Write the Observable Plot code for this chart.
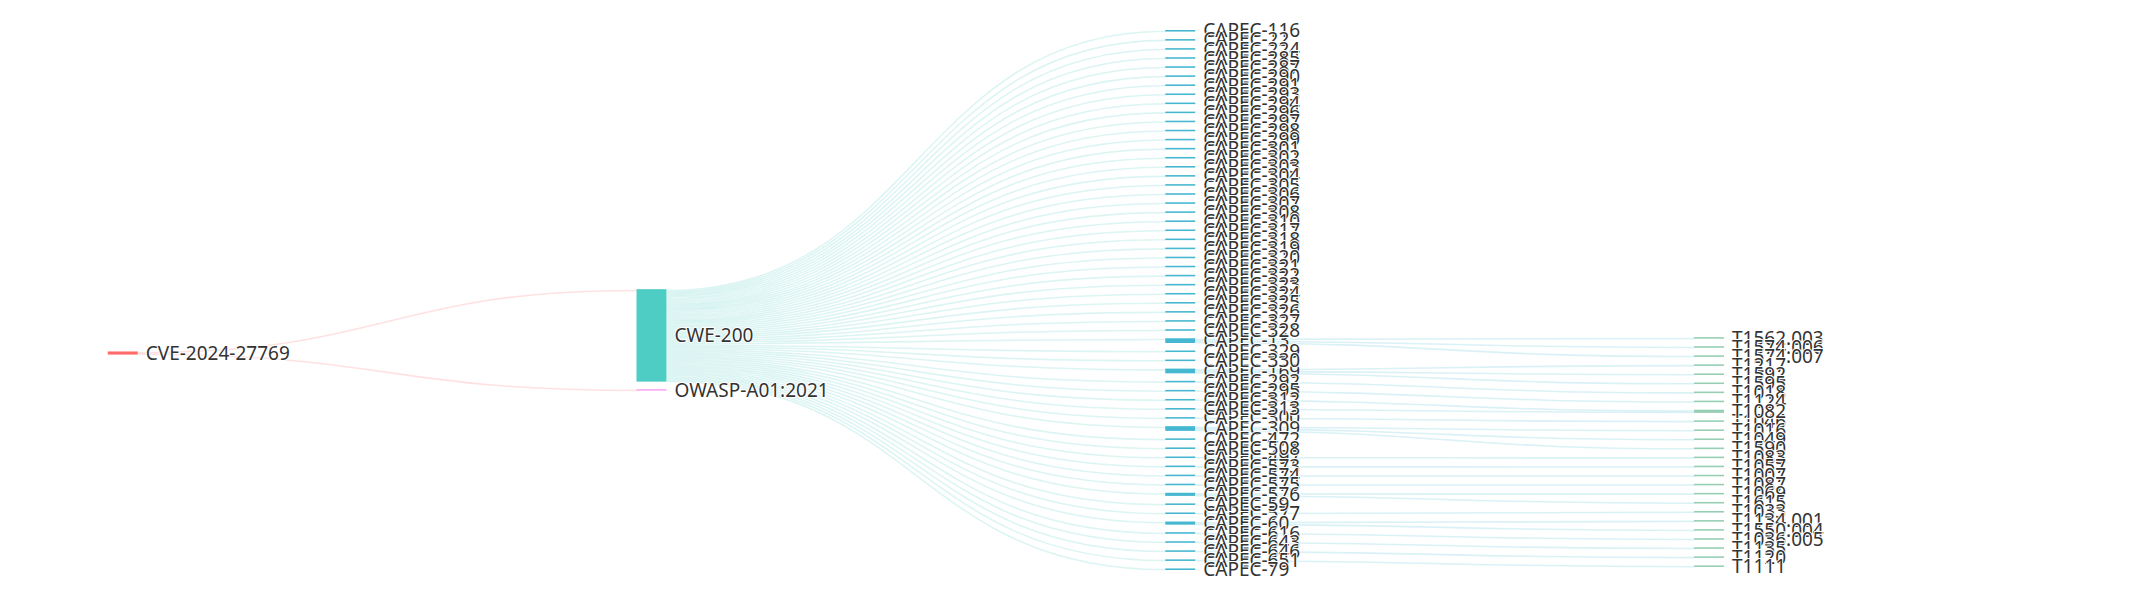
<!DOCTYPE html>
<html>
<head>
<meta charset="utf-8">
<script src="https://cdn.jsdelivr.net/npm/d3@7"></script>
<script src="https://cdn.jsdelivr.net/npm/@observablehq/plot@0.6"></script>
<style>
  html, body { margin: 0; padding: 0; background: #ffffff; }
  #chart svg { display: block; }
</style>
</head>
<body>
<div id="chart"></div>
<script>
// ---------------- data ----------------
const cveNodes = ["CVE-2024-27769"];
const weaknessNodes = ["CWE-200", "OWASP-A01:2021"];
const capecNodes = [
  "CAPEC-116","CAPEC-13","CAPEC-169","CAPEC-22","CAPEC-224","CAPEC-285","CAPEC-287",
  "CAPEC-290","CAPEC-291","CAPEC-292","CAPEC-293","CAPEC-294","CAPEC-295","CAPEC-296",
  "CAPEC-297","CAPEC-298","CAPEC-299","CAPEC-300","CAPEC-301","CAPEC-302","CAPEC-303",
  "CAPEC-304","CAPEC-305","CAPEC-306","CAPEC-307","CAPEC-308","CAPEC-309","CAPEC-310",
  "CAPEC-312","CAPEC-313","CAPEC-317","CAPEC-318","CAPEC-319","CAPEC-320","CAPEC-321",
  "CAPEC-322","CAPEC-323","CAPEC-324","CAPEC-325","CAPEC-326","CAPEC-327","CAPEC-328",
  "CAPEC-329","CAPEC-330","CAPEC-472","CAPEC-497","CAPEC-508","CAPEC-573","CAPEC-574",
  "CAPEC-575","CAPEC-576","CAPEC-577","CAPEC-59","CAPEC-60","CAPEC-616","CAPEC-643",
  "CAPEC-646","CAPEC-651","CAPEC-79"
];
const attackNodes = [
  "T1562.003","T1574.006","T1574.007","T1217","T1592","T1595","T1018","T1124","T1046",
  "T1016","T1049","T1590","T1082","T1083","T1057","T1007","T1087","T1069","T1615",
  "T1033","T1134.001","T1550.004","T1036.005","T1135","T1120","T1111"
];
const cveLinks = [["CVE-2024-27769","CWE-200"],["CVE-2024-27769","OWASP-A01:2021"]];
const capecAttackLinks = [
  ["CAPEC-13","T1562.003"],["CAPEC-13","T1574.006"],["CAPEC-13","T1574.007"],
  ["CAPEC-169","T1217"],["CAPEC-169","T1592"],["CAPEC-169","T1595"],
  ["CAPEC-292","T1018"],["CAPEC-295","T1124"],["CAPEC-300","T1046"],
  ["CAPEC-309","T1016"],["CAPEC-309","T1049"],["CAPEC-309","T1590"],
  ["CAPEC-312","T1082"],["CAPEC-313","T1082"],["CAPEC-497","T1083"],
  ["CAPEC-573","T1057"],["CAPEC-574","T1007"],["CAPEC-575","T1087"],
  ["CAPEC-576","T1069"],["CAPEC-576","T1615"],["CAPEC-577","T1033"],
  ["CAPEC-60","T1134.001"],["CAPEC-60","T1550.004"],["CAPEC-616","T1036.005"],
  ["CAPEC-643","T1135"],["CAPEC-646","T1120"],["CAPEC-651","T1111"]
];
const linkValue = 1;
const typeColors = {CVE: "#ff6b6b", CWE: "#4ecdc4", OWASP: "#f9a6f1", CAPEC: "#45b7d1", T: "#96ceb4"};

// ---------------- sankey layout (echarts-style) ----------------
const WIDTH = 2155, HEIGHT = 600;
const LEFT = WIDTH * 0.05, RIGHT = WIDTH * 0.20, TOP = HEIGHT * 0.05, BOTTOM = HEIGHT * 0.05;
const LW = WIDTH - LEFT - RIGHT, LH = HEIGHT - TOP - BOTTOM;
const NODE_W = 30, NODE_GAP = 7.5, ITER = 64, LABEL_GAP = 7.5;

const names = [...cveNodes, ...weaknessNodes, ...capecNodes, ...attackNodes];
const nodes = names.map((name, index) => ({name, index, inEdges: [], outEdges: []}));
const byName = new Map(nodes.map(n => [n.name, n]));
const pairs = [...cveLinks, ...capecNodes.map(c => ["CWE-200", c]), ...capecAttackLinks];
const edges = pairs.map(([s, t]) => ({source: byName.get(s), target: byName.get(t), value: linkValue}));
for (const e of edges) { e.source.outEdges.push(e); e.target.inEdges.push(e); }
for (const n of nodes) {
  n.value = Math.max(d3.sum(n.outEdges, e => e.value), d3.sum(n.inEdges, e => e.value));
  const key = n.name.startsWith("CVE") ? "CVE" : n.name.startsWith("CWE") ? "CWE"
    : n.name.startsWith("OWASP") ? "OWASP" : n.name.startsWith("CAPEC") ? "CAPEC" : "T";
  n.color = typeColors[key];
}
// depths
{
  const indeg = nodes.map(n => n.inEdges.length);
  let zero = nodes.filter(n => n.inEdges.length === 0), next = [], x = 0;
  while (zero.length) {
    for (const n of zero) {
      n.depth = x;
      for (const e of n.outEdges) {
        const t = e.target;
        if (--indeg[t.index] === 0 && next.indexOf(t) < 0) next.push(t);
      }
    }
    x++; zero = next; next = [];
  }
  const maxDepth = x - 1;
  const kx = (LW - NODE_W) / maxDepth;
  for (const n of nodes) { n.x = n.depth * kx; n.dx = NODE_W; }
}
const cols = [];
for (const n of nodes) (cols[n.depth] ||= []).push(n);
let ky = Infinity;
for (const c of cols) ky = Math.min(ky, (LH - (c.length - 1) * NODE_GAP) / d3.sum(c, n => n.value));
for (const c of cols) c.forEach((n, i) => { n.y = i; n.dy = n.value * ky; });
for (const e of edges) e.dy = e.value * ky;
const center = n => n.y + n.dy / 2;
function resolve() {
  for (const c of cols) {
    c.sort((a, b) => a.y - b.y);
    let y0 = 0, node;
    for (let i = 0; i < c.length; i++) {
      node = c[i];
      const dy = y0 - node.y;
      if (dy > 0) node.y += dy;
      y0 = node.y + node.dy + NODE_GAP;
    }
    let dy = y0 - NODE_GAP - LH;
    if (dy > 0) {
      node.y -= dy;
      y0 = node.y;
      for (let i = c.length - 2; i >= 0; --i) {
        node = c[i];
        dy = node.y + node.dy + NODE_GAP - y0;
        if (dy > 0) node.y -= dy;
        y0 = node.y;
      }
    }
  }
}
function relaxRightToLeft(alpha) {
  for (const c of cols.slice().reverse()) for (const n of c) {
    if (n.outEdges.length) {
      const y = d3.sum(n.outEdges, e => center(e.target) * e.value) / d3.sum(n.outEdges, e => e.value);
      n.y += (y - center(n)) * alpha;
    }
  }
}
function relaxLeftToRight(alpha) {
  for (const c of cols) for (const n of c) {
    if (n.inEdges.length) {
      const y = d3.sum(n.inEdges, e => center(e.source) * e.value) / d3.sum(n.inEdges, e => e.value);
      n.y += (y - center(n)) * alpha;
    }
  }
}
resolve();
for (let alpha = 1, it = ITER; it > 0; it--) {
  alpha *= 0.99;
  relaxRightToLeft(alpha); resolve();
  relaxLeftToRight(alpha); resolve();
}
for (const n of nodes) {
  n.outEdges.sort((a, b) => a.target.y - b.target.y);
  n.inEdges.sort((a, b) => a.source.y - b.source.y);
}
for (const n of nodes) {
  let sy = 0, ty = 0;
  for (const e of n.outEdges) { e.sy = sy; sy += e.dy; }
  for (const e of n.inEdges) { e.ty = ty; ty += e.dy; }
}

// ---------------- plot ----------------
const chart = Plot.plot({
  width: WIDTH,
  height: HEIGHT,
  marginLeft: 0, marginRight: 0, marginTop: 0, marginBottom: 0,
  style: {background: "#ffffff", overflow: "visible"},
  x: {domain: [0, LW], range: [LEFT, LEFT + LW], axis: null},
  y: {domain: [0, LH], range: [TOP, TOP + LH], axis: null},
  color: {type: "identity"},
  marks: [
    Plot.link(edges, {
      x1: e => e.source.x + e.source.dx,
      y1: e => e.source.y + e.sy + e.dy / 2,
      x2: e => e.target.x,
      y2: e => e.target.y + e.ty + e.dy / 2,
      stroke: e => e.source.color,
      strokeOpacity: 0.2,
      strokeWidth: e => e.dy,
      curve: "bump-x"
    }),
    Plot.rect(nodes, {
      x1: n => n.x, x2: n => n.x + n.dx,
      y1: n => n.y, y2: n => n.y + n.dy,
      fill: n => n.color
    }),
    Plot.text(nodes, {
      x: n => n.x + n.dx + LABEL_GAP,
      y: n => n.y + n.dy / 2,
      text: "name",
      textAnchor: "start",
      fontSize: 19,
      fontFamily: "Noto Sans",
      fill: "#333333",
      stroke: "#ffffff",
      strokeWidth: 2
    })
  ]
});
document.getElementById("chart").appendChild(chart);
</script>
</body>
</html>
